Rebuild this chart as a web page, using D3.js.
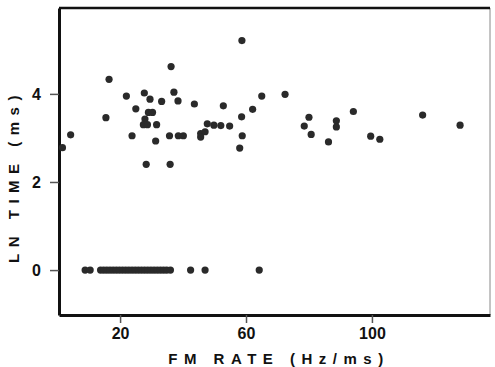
<!DOCTYPE html>
<html>
<head>
<meta charset="utf-8">
<script src="https://cdn.jsdelivr.net/npm/d3@7"></script>
<style>
  body { margin: 0; background: #fff; }
  text { font-family: "Liberation Sans", Arial, sans-serif; font-weight: bold; fill: #111; }
</style>
</head>
<body>
<div id="chart"></div>
<script>
// FM rate (Hz/ms) vs LN time (ms)
const rateVals = [1.7, 4.3, 16.5, 15.5, 36.2, 58.7, 22, 25, 23.8, 27.7, 29.5, 33.2, 37.1, 38.4, 43.6, 52.8,
  58.6, 58.8, 58, 29, 30.3, 27.9, 27.4, 28.7, 31.6, 31.3, 28.3, 35.9, 35.7, 38.5, 40.1,
  45.6, 47, 45.6, 47.7, 49.8, 52, 54.8, 65, 72.4, 62.1, 80, 78.5, 80.7, 86.2, 88.7, 88.7,
  94.1, 99.6, 102.5, 116.1, 128]
const timeVals = [2.78, 3.07, 4.33, 3.46, 4.62, 5.21, 3.95, 3.66, 3.05, 4.02, 3.88, 3.83, 4.04, 3.84, 3.77, 3.73,
  3.48, 3.05, 2.77, 3.58, 3.58, 3.43, 3.3, 3.3, 3.3, 2.93, 2.4, 2.4, 3.05, 3.05, 3.05,
  3.1, 3.14, 3.02, 3.32, 3.29, 3.28, 3.27, 3.95, 3.99, 3.65, 3.47, 3.27, 3.08, 2.91, 3.39, 3.25,
  3.6, 3.04, 2.97, 3.52, 3.29]
// responses with LN time of zero
const zeroRates = [8.9, 10.5, 13.8, 14.8, 15.8, 16.8, 17.8, 18.8, 19.8, 20.8, 21.8, 22.8, 23.8, 24.8,
  25.8, 26.8, 27.8, 28.8, 29.8, 30.8, 31.8, 32.8, 33.8, 34.8, 36, 42.4, 47, 64.2]

const xTicks = [20, 60, 100]
const yTicks = [0, 2, 4]

const width = 495, height = 367
const margin = {top: 8, right: 5, bottom: 52, left: 59}

const data = rateVals.map((r, i) => ({rate: r, time: timeVals[i]}))
  .concat(zeroRates.map(r => ({rate: r, time: 0})))

const x = d3.scaleLinear().domain([0.6, 137.5]).range([margin.left, width - margin.right])
const y = d3.scaleLinear().domain([-1.02, 5.95]).range([height - margin.bottom, margin.top])

const svg = d3.select("#chart").append("svg")
  .attr("width", width)
  .attr("height", height)

// right edge of the frame, thin
svg.append("line")
  .attr("x1", x.range()[1]).attr("x2", x.range()[1])
  .attr("y1", y.range()[1]).attr("y2", y.range()[0])
  .attr("stroke", "#888").attr("stroke-width", 1)

// top edge
svg.append("line")
  .attr("x1", x.range()[0]).attr("x2", x.range()[1])
  .attr("y1", y.range()[1]).attr("y2", y.range()[1])
  .attr("stroke", "#111").attr("stroke-width", 2.5)

// AXES
const xAxis = svg.append("g")
  .attr("transform", `translate(0,${y.range()[0]})`)
  .call(d3.axisBottom(x).tickValues(xTicks).tickFormat(d3.format("d"))
    .tickSize(8).tickPadding(5).tickSizeOuter(0))
xAxis.select(".domain").attr("stroke", "#111").attr("stroke-width", 3)
xAxis.selectAll(".tick line").attr("stroke", "#555").attr("stroke-width", 1.5)
xAxis.selectAll(".tick text").attr("font-size", 16).attr("fill", "#111")

const yAxis = svg.append("g")
  .attr("transform", `translate(${x.range()[0]},0)`)
  .call(d3.axisLeft(y).tickValues(yTicks).tickFormat(d3.format("d"))
    .tickSize(9).tickPadding(9).tickSizeOuter(0))
yAxis.select(".domain").attr("stroke", "#111").attr("stroke-width", 3)
yAxis.selectAll(".tick line").attr("stroke", "#555").attr("stroke-width", 1.5)
yAxis.selectAll(".tick text").attr("font-size", 16).attr("fill", "#111")

// axis titles
svg.append("text")
  .attr("x", 279).attr("y", 364)
  .attr("text-anchor", "middle")
  .attr("font-size", 15)
  .style("letter-spacing", "6.5px")
  .text("FM RATE (Hz/ms)")

svg.append("text")
  .attr("transform", "translate(19,176) rotate(-90)")
  .attr("text-anchor", "middle")
  .attr("font-size", 15)
  .style("letter-spacing", "6.5px")
  .text("LN TIME (ms)")

// DOTS
svg.selectAll("circle")
  .data(data)
  .join("circle")
    .attr("cx", d => x(d.rate))
    .attr("cy", d => y(d.time))
    .attr("r", 3.6)
    .attr("fill", "#2a2a2a")
</script>
</body>
</html>
